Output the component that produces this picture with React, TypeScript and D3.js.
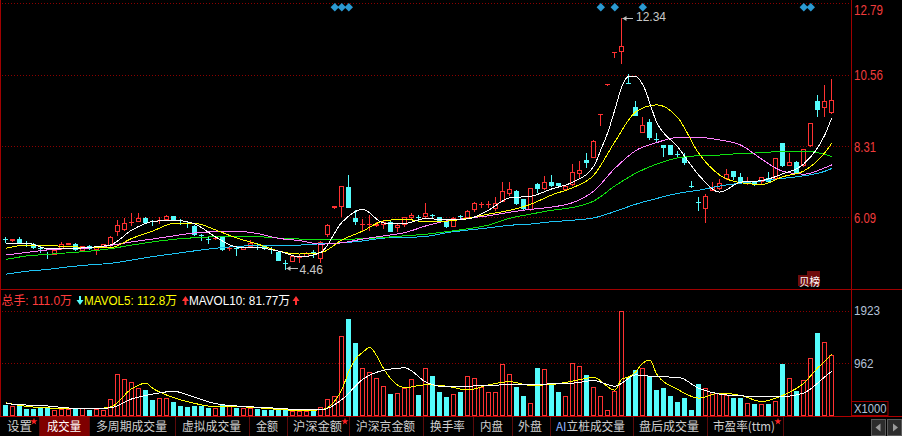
import React from "react";
import * as d3 from "d3";

// ---------- data ----------
const opens = [5.41,5.34,5.41,5.29,5.25,5.12,4.93,4.91,5.09,5.22,5.25,5.04,5.20,5.06,5.14,5.19,5.64,5.69,5.90,5.95,6.07,5.96,5.96,6.00,6.13,6.00,5.91,5.82,5.53,5.42,5.43,5.50,5.10,5.12,5.07,5.17,5.17,5.20,5.11,5.01,4.66,4.70,4.85,4.86,5.00,4.80,5.54,6.39,6.40,7.05,6.08,5.85,5.84,5.83,5.85,5.95,5.74,5.85,6.08,6.10,6.09,6.17,6.09,5.97,5.80,6.13,6.06,6.32,6.50,6.50,6.34,6.58,6.82,6.92,6.65,6.32,7.13,6.97,7.18,7.15,6.94,7.10,7.44,7.88,7.96,9.31,10.24,11.24,11.27,10.30,9.53,8.74,9.07,8.55,8.35,8.35,8.07,7.99,7.06,6.56,6.34,6.92,6.97,7.28,7.54,7.34,7.19,7.18,7.19,7.33,7.28,8.41,7.70,7.81,7.69,8.32,9.74,9.50,9.36];
const highs = [5.46,5.42,5.46,5.35,5.27,5.19,5.01,5.08,5.31,5.30,5.28,5.20,5.22,5.16,5.26,5.49,6.00,6.06,6.23,6.21,6.10,6.00,6.11,6.16,6.14,6.04,5.95,5.84,5.57,5.46,5.50,5.52,5.17,5.17,5.16,5.38,5.29,5.22,5.17,5.03,4.76,4.90,4.92,5.00,5.07,5.36,5.87,6.45,7.08,7.41,6.32,6.05,6.16,5.95,5.96,5.96,5.87,6.10,6.23,6.16,6.55,6.20,6.10,5.99,6.09,6.16,6.33,6.58,6.58,6.61,6.73,7.20,7.20,6.94,6.66,7.02,7.15,7.38,7.42,7.17,7.09,7.76,7.86,8.09,8.50,9.33,10.26,11.26,12.34,10.58,9.73,9.24,9.16,8.74,8.36,8.36,8.16,8.09,7.23,6.73,6.82,7.20,7.28,7.60,7.55,7.47,7.36,7.20,7.36,7.50,7.95,8.43,8.09,7.85,8.24,9.05,9.92,10.23,10.42];
const lows = [5.33,5.33,5.30,5.19,5.10,5.01,4.83,4.90,5.08,5.21,5.05,5.02,5.08,4.91,5.12,5.17,5.50,5.66,5.85,5.94,5.90,5.85,5.92,5.99,5.99,5.88,5.78,5.52,5.38,5.29,5.40,5.05,5.06,4.91,5.06,5.15,5.09,5.08,4.96,4.71,4.46,4.68,4.70,4.84,4.86,4.65,5.46,6.34,6.11,6.37,5.85,5.69,5.69,5.78,5.71,5.62,5.64,5.78,6.05,6.00,6.05,6.06,5.93,5.76,5.78,6.06,6.04,6.26,6.40,6.40,6.30,6.56,6.76,6.46,6.30,6.30,6.84,6.95,7.05,7.05,6.92,7.08,7.28,7.62,7.94,8.98,10.24,11.12,10.88,10.28,9.25,8.73,8.51,8.46,7.99,8.03,7.99,7.73,7.05,6.32,5.92,6.92,6.95,7.27,7.26,7.12,7.13,7.08,7.13,7.18,7.26,7.68,7.69,7.47,7.67,8.30,9.24,9.22,9.32];
const closes = [5.40,5.41,5.30,5.24,5.12,5.10,4.91,5.07,5.25,5.28,5.07,5.19,5.10,5.15,5.24,5.48,5.85,5.92,5.95,6.06,5.92,5.94,6.01,6.13,6.00,5.98,5.88,5.54,5.50,5.40,5.45,5.08,5.12,5.10,5.15,5.29,5.15,5.09,5.09,4.73,4.64,4.88,4.86,4.96,4.97,5.33,5.85,6.44,7.07,6.39,5.93,5.88,5.89,5.87,5.95,5.64,5.85,6.09,6.16,6.08,6.23,6.14,5.95,5.78,6.06,6.11,6.30,6.53,6.52,6.52,6.53,6.92,6.99,6.50,6.34,7.00,6.97,7.20,7.07,7.07,7.07,7.52,7.57,7.79,8.48,9.33,10.26,11.26,11.45,10.28,9.26,8.97,8.56,8.53,8.25,8.04,8.05,7.78,7.05,6.54,6.76,7.05,7.17,7.44,7.36,7.18,7.22,7.10,7.34,7.20,7.94,7.70,7.81,7.49,8.22,9.03,9.45,9.74,9.76];
const volumes = [201,189,189,128,128,140,140,110,128,128,128,140,104,128,110,311,773,670,627,505,475,292,335,323,250,183,171,189,189,152,140,213,201,152,140,140,128,104,110,110,110,91,91,91,91,171,305,371,1468,1766,1328,883,810,700,554,396,426,518,670,378,871,725,432,341,396,432,737,700,536,445,445,944,761,524,359,231,871,853,566,432,371,962,907,743,536,360,104,463,1923,719,840,883,737,475,505,365,262,323,104,579,505,445,426,384,323,323,231,213,213,213,274,944,700,463,658,1066,1510,1358,1110];

// moving-average lines, read at these candle indices
const maIdx = [0,3,6,9,12,15,18,21,24,27,30,33,36,39,42,45,48,51,54,57,60,63,66,69,72,75,78,81,84,87,90,93,96,99,102,105,108,111,114,117,118];
const ma5Idx = [0,3,6,9,12,15,18,21,24,27,30,33,36,39,42,45,48,51,54,57,60,63,66,69,72,75,78,81,84,85,86,87,88,89,90,91,93,96,99,102,105,108,111,114,117,118];
const ma5 = [5.28,5.28,5.11,5.11,5.15,5.23,5.69,5.96,6.00,5.88,5.47,5.16,5.14,5.03,4.85,4.99,5.93,6.34,5.91,5.90,6.05,6.01,6.04,6.32,6.70,6.75,6.98,7.19,7.69,8.20,8.75,9.45,10.18,10.50,10.50,10.24,9.06,8.29,7.41,6.88,7.19,7.24,7.45,7.76,8.67,9.21];
const ma10 = [5.12,5.22,5.21,5.17,5.15,5.14,5.43,5.66,5.90,5.90,5.69,5.44,5.25,5.03,4.94,4.98,5.38,5.66,5.98,6.03,5.95,5.97,6.06,6.19,6.31,6.50,6.79,7.02,7.41,8.45,9.39,9.61,9.21,8.09,7.41,7.17,7.12,7.36,7.54,8.11,8.41];
const ma20 = [4.91,4.99,5.07,5.11,5.13,5.21,5.32,5.41,5.51,5.60,5.64,5.65,5.58,5.43,5.36,5.25,5.29,5.41,5.51,5.61,5.82,5.98,6.06,6.14,6.25,6.34,6.41,6.55,6.91,7.62,8.18,8.43,8.59,8.59,8.51,8.35,7.91,7.53,7.44,7.64,7.73];
const ma30 = [4.77,4.88,4.93,4.98,5.03,5.11,5.22,5.32,5.40,5.45,5.48,5.48,5.48,5.44,5.41,5.40,5.40,5.42,5.46,5.51,5.56,5.64,5.73,5.85,6.06,6.19,6.31,6.40,6.60,7.07,7.47,7.76,7.95,8.02,8.04,8.09,8.11,8.16,8.16,8.06,7.99];
const ma60 = [4.31,4.40,4.46,4.54,4.60,4.65,4.75,4.86,4.95,5.04,5.12,5.18,5.20,5.20,5.22,5.26,5.29,5.35,5.44,5.46,5.49,5.61,5.69,5.76,5.84,5.88,5.95,6.00,6.07,6.27,6.50,6.68,6.84,6.94,7.07,7.16,7.23,7.31,7.39,7.53,7.62];
const mavol5Idx = [0,3,6,9,12,15,18,20,21,24,27,30,33,36,39,42,45,48,49,50,51,52,53,54,57,60,63,66,69,72,75,78,81,84,87,88,89,90,91,92,93,96,99,102,105,108,111,114,116,117,118];
const mavol5 = [240,175,148,135,128,165,500,600,505,335,230,168,170,150,120,102,112,480,816,1048,1163,1251,1097,860,519,570,545,475,570,626,560,575,637,704,470,677,714,810,966,1020,760,485,327,420,375,265,378,600,879,1000,1128];
const mavol10 = [225,200,183,146,132,150,312,400,450,340,225,183,160,140,115,110,300,670,836,880,621,531,545,555,574,568,590,600,647,544,750,715,710,507,399,367,358,354,420,715,818];

const priceTicks = [12.79, 10.56, 8.31, 6.09];
const volTicks = [1923, 962];
const markerIdx = [47, 48, 49, 85, 87, 91, 114, 115];
const tabs = ["设置", "成交量", "多周期成交量", "虚拟成交量", "金额", "沪深金额", "沪深京金额", "换手率", "内盘", "外盘", "AI立桩成交量", "盘后成交量", "市盈率(ttm)"];
const tabX = [7, 47, 96, 182, 256, 293, 356, 430, 480, 518, 556, 639, 713];
const tabW = [25, 34, 71, 59, 22, 49, 59, 35, 23, 24, 69, 60, 62];
const tabSeps = [39.5, 89.5, 175.5, 249.5, 287.5, 349.5, 423.5, 473.5, 512.5, 550.5, 633.5, 707.5, 783.5];
const tabStars = [34, 345, 778];

const RED = "#ff3232";
const CYAN = "#54fcfc";
const GRID = "#8b0000";
const LATIN = "'Liberation Sans', Arial, 'Noto Sans CJK SC', sans-serif";
const CJK = "'Noto Sans CJK SC', 'Liberation Sans', sans-serif";

export default function App() {
  const W = 902, H = 436;
  const n = closes.length;
  const x = d3.scaleLinear().domain([0, n - 1]).range([5.8, 831.8]);
  const y = d3.scaleLinear().domain([6.09, 12.79]).range([217.3, 3.3]);
  const yv = d3.scaleLinear().domain([0, 1923]).range([416, 310.7]);
  const cx = (i: number) => Math.round(x(i) - 0.5) + 0.5;

  const priceLine = d3.line<[number, number]>().x(d => x(d[0])).y(d => y(d[1])).curve(d3.curveMonotoneX);
  const volLine = d3.line<[number, number]>().x(d => x(d[0])).y(d => yv(d[1])).curve(d3.curveMonotoneX);
  const pairs = (idx: number[], v: number[]) => idx.map((k, j) => [k, v[j]] as [number, number]);

  const maLines = [
    { v: pairs(maIdx, ma60), c: "#1ec4f4" },
    { v: pairs(maIdx, ma30), c: "#10e010" },
    { v: pairs(maIdx, ma20), c: "#ff80ff" },
    { v: pairs(maIdx, ma10), c: "#ffff00" },
    { v: pairs(ma5Idx, ma5), c: "#ffffff" },
  ];

  const candles = closes.map((c, i) => {
    const o = opens[i];
    const up = c >= o;
    const col = up ? RED : CYAN;
    const X = cx(i);
    const top = Math.round(y(Math.max(o, c)));
    const bot = Math.round(y(Math.min(o, c)));
    const hy = Math.round(y(highs[i]));
    const ly = Math.round(y(lows[i]));
    const els: any[] = [];
    if (bot - top < 2) {
      els.push(<line key="w" x1={X} x2={X} y1={hy} y2={ly + 1} stroke={col} />);
      els.push(<line key="b" x1={X - 2.5} x2={X + 2.5} y1={top + 0.5} y2={top + 0.5} stroke={col} />);
    } else if (up) {
      if (hy < top) els.push(<line key="h" x1={X} x2={X} y1={hy} y2={top} stroke={col} />);
      if (ly > bot) els.push(<line key="l" x1={X} x2={X} y1={bot} y2={ly} stroke={col} />);
      els.push(<rect key="b" x={X - 2} y={top + 0.5} width={4} height={bot - top - 1} fill="#000" stroke={col} />);
    } else {
      els.push(<line key="w" x1={X} x2={X} y1={hy} y2={ly} stroke={col} />);
      els.push(<rect key="b" x={X - 2.5} y={top} width={5} height={bot - top} fill={col} />);
    }
    return <g key={i}>{els}</g>;
  });

  const volBars = volumes.map((v, i) => {
    const up = closes[i] >= opens[i];
    const X = cx(i);
    const top = Math.round(yv(v));
    return up ? (
      <rect key={i} x={X - 2} y={top + 0.5} width={4} height={416 - top - 1} fill="none" stroke={RED} />
    ) : (
      <rect key={i} x={X - 2.5} y={top} width={5} height={416 - top} fill={CYAN} />
    );
  });

  const arrowDown = (c: number, col: string) => (
    <path d={`M${c - 1},296 h2 v4 h2.5 l-3.5,5 l-3.5,-5 h2.5 z`} fill={col} />
  );
  const arrowUp = (c: number, col: string) => (
    <path d={`M${c},296 l3.5,5 h-2.5 v4 h-2 v-4 h-2.5 z`} fill={col} />
  );

  const hiI = highs.indexOf(d3.max(highs) as number);
  const loI = lows.indexOf(d3.min(lows) as number);
  const star = d3.symbol(d3.symbolStar, 16)() as string;

  return (
    <svg width={W} height={H} style={{ position: "absolute", left: 0, top: 0, display: "block", background: "#000" }}>
      <rect x={0} y={0} width={W} height={H} fill="#000" />
      {/* grids */}
      {priceTicks.map(t => (
        <line key={t} x1={2} x2={851} y1={Math.round(y(t)) + 0.5} y2={Math.round(y(t)) + 0.5} stroke={GRID} strokeDasharray="1 2" />
      ))}
      {volTicks.map(t => (
        <line key={t} x1={2} x2={851} y1={Math.round(yv(t)) + 0.5} y2={Math.round(yv(t)) + 0.5} stroke={GRID} strokeDasharray="1 2" />
      ))}
      {/* frame */}
      <line x1={0.5} x2={0.5} y1={0} y2={417} stroke="#a00000" />
      <line x1={851.5} x2={851.5} y1={0} y2={417} stroke="#a00000" />
      <line x1={0} x2={W} y1={289.5} y2={289.5} stroke="#a00000" />
      <line x1={0} x2={W} y1={416.5} y2={416.5} stroke="#b00000" />

      {/* markers */}
      {markerIdx.map(i => (
        <path key={i} d={`M${x(i)},3 l4.2,4.2 l-4.2,4.2 l-4.2,-4.2 z`} fill="#2b9ad2" />
      ))}

      {/* candles */}
      {candles}
      {maLines.map((m, k) => (
        <path key={k} d={priceLine(m.v) as string} fill="none" stroke={m.c} strokeWidth={1} shapeRendering="crispEdges" />
      ))}

      {/* high / low annotations */}
      <line x1={cx(hiI) + 1} x2={633} y1={Math.round(y(highs[hiI])) + 0.5} y2={Math.round(y(highs[hiI])) + 0.5} stroke="#c0c0c0" />
      <path d={`M${cx(hiI) + 1},${Math.round(y(highs[hiI])) + 0.5} l4,-2.5 v5 z`} fill="#c0c0c0" />
      <text x={636} y={21} fill="#c8c8c8" fontFamily={LATIN} fontSize={13.5} textLength={30} lengthAdjust="spacingAndGlyphs">{highs[hiI].toFixed(2)}</text>
      <line x1={cx(loI) + 1} x2={298} y1={268.5} y2={268.5} stroke="#c0c0c0" />
      <path d={`M${cx(loI) + 1},268.5 l4,-2.5 v5 z`} fill="#c0c0c0" />
      <text x={299.5} y={273.5} fill="#c8c8c8" fontFamily={LATIN} fontSize={13.5} textLength={23.5} lengthAdjust="spacingAndGlyphs">{lows[loI].toFixed(2)}</text>

      {/* label box */}
      <rect x={798} y={275} width={10} height={11} fill="#6e0c0c" />
      <rect x={807} y={271} width={13} height={15} fill="#6e0c0c" />
      <text x={799} y={285.5} fill="#ffffff" fontFamily={CJK} fontSize={11.5} textLength={21} lengthAdjust="spacingAndGlyphs">贝榜</text>

      {/* price axis labels */}
      {priceTicks.map(t => (
        <text key={t} x={854} y={Math.max(y(t) + 5.5, 14.5)} fill="#f03c3c" fontFamily={LATIN} fontSize={15} textLength={t >= 10 ? 29 : 22} lengthAdjust="spacingAndGlyphs">{t.toFixed(2)}</text>
      ))}

      {/* volume panel */}
      {volBars}
      <path d={volLine(pairs(mavol5Idx, mavol5)) as string} fill="none" stroke="#ffff00" shapeRendering="crispEdges" />
      <path d={volLine(pairs(maIdx, mavol10)) as string} fill="none" stroke="#ffffff" shapeRendering="crispEdges" />
      {volTicks.map(t => (
        <text key={t} x={854} y={yv(t) + 4.5} fill="#b4c2d8" fontFamily={LATIN} fontSize={13} textLength={t >= 1000 ? 26 : 19.5} lengthAdjust="spacingAndGlyphs">{t}</text>
      ))}
      <rect x={851.5} y={401.5} width={36.5} height={14} fill="#000" stroke="#a00000" />
      <text x={854} y={413} fill="#b4c2d8" fontFamily={LATIN} fontSize={13} textLength={32.5} lengthAdjust="spacingAndGlyphs">X1000</text>

      {/* header */}
      <text x={1.5} y={305} fill="#ff3c3c" fontFamily={LATIN} fontSize={12} textLength={70.5} lengthAdjust="spacingAndGlyphs">总手: 111.0万</text>
      {arrowDown(80, CYAN)}
      <text x={84} y={305} fill="#ffff00" fontFamily={LATIN} fontSize={12} textLength={93} lengthAdjust="spacingAndGlyphs">MAVOL5: 112.8万</text>
      {arrowUp(185.5, RED)}
      <text x={189} y={305} fill="#ffffff" fontFamily={LATIN} fontSize={12} textLength={101} lengthAdjust="spacingAndGlyphs">MAVOL10: 81.77万</text>
      {arrowUp(296, RED)}

      {/* tab bar */}
      <rect x={39.5} y={417} width={50} height={19} fill="#7f0000" />
      {tabSeps.map(s => (
        <line key={s} x1={s} x2={s} y1={417} y2={436} stroke="#5c0a0a" />
      ))}
      {tabs.map((t, k) => (
        <text key={t} x={tabX[k]} y={431} fill={k === 1 ? "#ffffff" : "#cfcfcf"} fontFamily={CJK} fontSize={12} textLength={tabW[k]} lengthAdjust="spacingAndGlyphs">
          {t.startsWith("AI") ? (<><tspan fill="#8fb4ff">AI</tspan>{t.slice(2)}</>) : t}
        </text>
      ))}
      {tabStars.map(s => (
        <path key={s} d={star} transform={`translate(${s},421.5)`} fill="#ff2020" />
      ))}
      <rect x={871.5} y={419.5} width={14} height={16} fill="#2c2c2c" stroke="#5a5a5a" />
      <rect x={887.5} y={419.5} width={14} height={16} fill="#2c2c2c" stroke="#5a5a5a" />
      <path d="M875.5,427.5 l5,-4 v8 z" fill="#9a9a9a" />
      <path d="M898,427.5 l-5,-4 v8 z" fill="#9a9a9a" />
    </svg>
  );
}
